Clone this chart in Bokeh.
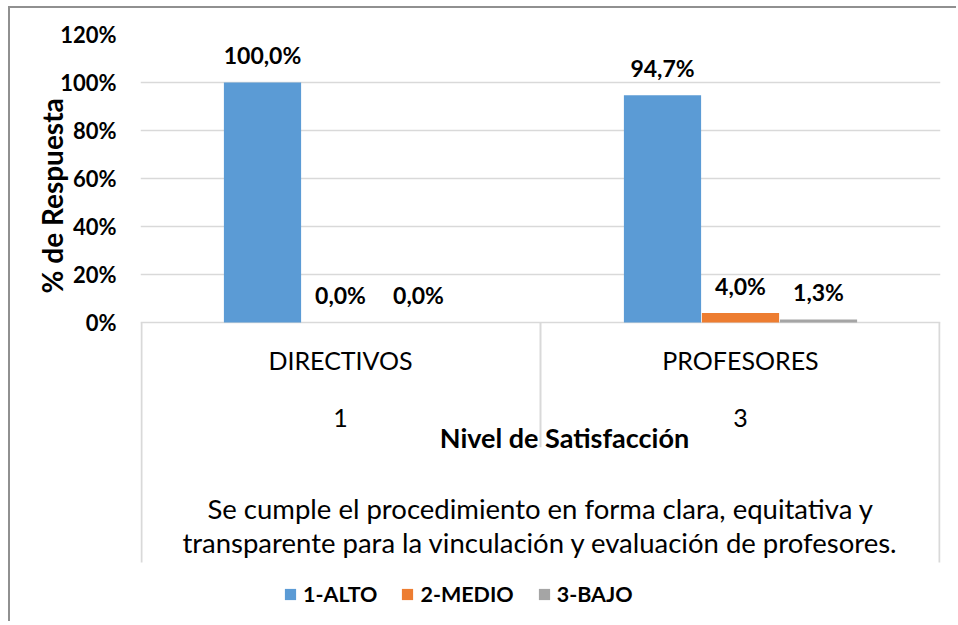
import numpy as np
from bokeh.plotting import figure
from bokeh.models import (FactorRange, Range1d, FixedTicker, NumeralTickFormatter,
                          ColumnDataSource, Legend, LegendItem, Title)
from bokeh.transform import dodge
from bokeh.core.properties import value
from bokeh.embed import file_html
from bokeh.resources import INLINE

# ---------------- data ----------------
grupos = ["DIRECTIVOS", "PROFESORES"]
grupos_nivel2 = ["1", "3"]
series = ["1-ALTO", "2-MEDIO", "3-BAJO"]
alto = [1.000, 0.947]
medio = [0.000, 0.040]
bajo = [0.000, 0.013]
colores = ["#5B9BD5", "#ED7D31", "#A5A5A5"]
y_ticks = [0.0, 0.2, 0.4, 0.6, 0.8, 1.0, 1.2]
titulo_y = "%  de Respuesta"
titulo_x = "Nivel de Satisfacción"
pregunta = ["Se cumple el procedimiento en forma clara, equitativa y",
            "transparente para la vinculación y evaluación de profesores."]

FONT = "Lato"

def fmt(v):
    return f"{v * 100:.1f}%".replace(".", ",")

src = ColumnDataSource(dict(
    grupo=grupos, alto=alto, medio=medio, bajo=bajo,
    alto_lbl=[fmt(v) for v in alto],
    medio_lbl=[fmt(v) for v in medio],
    bajo_lbl=[fmt(v) for v in bajo],
))

W, H = 948, 615
p = figure(width=W, height=H,
           x_range=FactorRange(factors=grupos, range_padding=0),
           y_range=Range1d(-1.2542, 1.2),
           output_backend="svg", toolbar_location=None,
           x_axis_location=None,
           min_border_left=130, min_border_right=18,
           min_border_top=26, min_border_bottom=0)
p.outline_line_color = None
p.background_fill_color = "white"
p.border_fill_color = "white"
p.styles = {"margin-left": "8px", "margin-top": "6px",
            "border-top": "2px solid #909090", "border-left": "2px solid #909090"}

# y axis
yax = p.yaxis[0]
yax.ticker = FixedTicker(ticks=y_ticks)
yax.formatter = NumeralTickFormatter(format="0%")
yax.axis_line_color = None
yax.major_tick_line_color = None
yax.minor_tick_line_color = None
yax.major_tick_in = 0
yax.major_tick_out = 0
yax.major_label_standoff = 24
yax.major_label_text_font = FONT
yax.major_label_text_font_style = "bold"
yax.major_label_text_font_size = "22px"
yax.major_label_text_color = "black"

p.ygrid.grid_line_color = "#d9d9d9"
p.ygrid.grid_line_width = 1.5
p.xgrid.visible = False

# y axis title (as a side title, placed along the value range)
p.add_layout(Title(text=titulo_y, align="left", offset=330, vertical_align="middle",
                   text_font=FONT, text_font_style="bold", text_font_size="28px",
                   text_color="black", standoff=-24), "left")

# bars + data labels
offsets = [-0.195, 0.0, 0.195]
items = []
for key, name, col, off in zip(["alto", "medio", "bajo"], series, colores, offsets):
    r = p.vbar(x=dodge("grupo", off, range=p.x_range), top=key, width=0.193,
               source=src, fill_color=col, line_color=None)
    p.text(x=dodge("grupo", off, range=p.x_range), y=key, text=key + "_lbl",
           source=src, text_align="center", text_baseline="middle", y_offset=-27,
           text_font=value(FONT), text_font_style="bold", text_font_size="23px",
           text_color="black")
    items.append(LegendItem(label=name, renderers=[r]))

# category table below the axis
p.segment(x0=[0.0025, 1.0, 1.9975], y0=[0, 0, 0],
          x1=[0.0025, 1.0, 1.9975], y1=[-1.0, -0.52, -1.0],
          line_color="#d9d9d9", line_width=2)

p.text(x=grupos, y=[-0.158] * 2, text=grupos, text_align="center",
       text_baseline="middle", text_font=value(FONT), text_font_size="25px",
       text_color="black")
p.text(x=grupos, y=[-0.396] * 2, text=grupos_nivel2, text_align="center",
       text_baseline="middle", text_font=value(FONT), text_font_size="25px",
       text_color="black")
p.text(x=[1.06], y=[-0.479], text=[titulo_x], text_align="center",
       text_baseline="middle", text_font=value(FONT), text_font_style="bold",
       text_font_size="27px", text_color="black")
p.text(x=[1.0, 1.0], y=[-0.775, -0.918], text=pregunta, text_align="center",
       text_baseline="middle", text_font=value(FONT), text_font_size="27.5px",
       text_color="black")

legend = Legend(items=items, orientation="horizontal", location=(143, 16),
                padding=0, margin=0, spacing=23, label_standoff=6,
                glyph_width=14, glyph_height=14,
                label_text_font=FONT, label_text_font_style="bold",
                label_text_font_size="21.5px", label_text_color="black",
                border_line_color=None, background_fill_alpha=0)
p.add_layout(legend)

open("out.html", "w").write(file_html(p, INLINE))
